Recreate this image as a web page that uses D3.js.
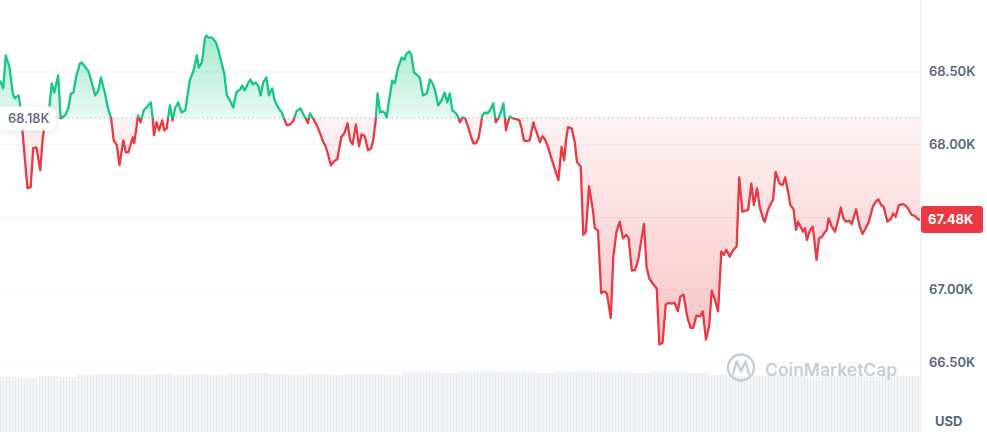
<!DOCTYPE html>
<html>
<head>
<meta charset="utf-8">
<script src="https://cdn.jsdelivr.net/npm/d3@7"></script>
<style>
  body { margin: 0; background: #fff; }
  svg { display: block; font-family: Inter, "Noto Sans", sans-serif; }
</style>
</head>
<body>
<div id="chart"></div>
<script>
// minutes since window start (24h) and price in USD
var times = [0,5,9,15,20,23,29,32,36,43,48,52,57,63,67,72,77,81,85,91,95,102,107,111,115,119,125,128,135,138,144,149,154,158,164,169,174,178,183,187,193,197,201,205,208,210,214,216,220,225,232,236,239,241,245,249,254,257,261,263,266,270,274,279,284,290,
  297,303,308,311,316,321,323,327,332,338,342,347,351,355,360,365,370,376,379,383,388,392,396,400,404,408,412,417,421,426,430,436,441,445,449,454,459,464,470,475,480,482,485,490,496,501,506,509,513,518,523,528,534,539,544,548,552,557,562,566,571,576,581,584,
  588,591,595,599,603,605,609,614,618,623,629,633,636,641,644,648,654,657,662,668,673,677,681,686,691,696,700,704,708,714,717,720,724,728,733,737,741,745,749,752,755,759,763,767,772,776,780,784,788,792,795,798,803,809,813,816,820,824,829,835,837,840,845,849,853,858,863,869,874,
  879,883,886,889,895,900,903,909,913,917,922,928,931,936,941,946,950,956,960,965,970,975,980,984,989,994,999,1003,1008,1012,1016,1021,1028,1032,1037,1042,1046,1051,1056,1061,1065,1070,1076,1081,1085,1090,1096,1100,1105,1110,1114,1119,1124,1129,1133,1137,1142,1148,1153,
  1157,1162,1167,1171,1176,1180,1185,1189,1195,1197,1202,1208,1210,1214,1220,1225,1229,1234,1237,1242,1246,1249,1253,1257,1260,1263,1268,1272,1274,1278,1282,1286,1290,1294,1297,1302,1307,1312,1316,1320,1324,1329,1333,1340,1345,1350,1355,1360,1366,1371,1375,1379,1383,1389,1394,1398,1402,1407,1413,1418,1421,1427,1432,1437,1440]

var prices = [68438,68384,68610,68527,68349,68315,68336,68253,68048,67699,67705,67973,67979,67822,68048,68178,68247,68418,68356,68473,68178,68199,68247,68349,68356,68459,68555,68562,68521,68507,68418,68336,68370,68459,68356,68247,68178,68027,67993,67856,68027,67945,67945,68007,68048,68007,68130,68199,68151,68233,68267,68288,68178,68062,68151,68096,68164,68096,68110,68178,68267,68164,68247,68288,68219,68233,
  68438,68507,68610,68527,68562,68733,68747,68733,68733,68699,68644,68555,68486,68336,68301,68253,68356,68377,68404,68370,68418,68445,68411,68425,68404,68336,68425,68459,68336,68384,68301,68247,68219,68171,68130,68137,68158,68226,68247,68205,68164,68144,68212,68178,68130,68075,68014,67993,67938,67856,67884,67897,68048,68075,68144,68027,68000,68137,67986,68068,68055,67959,67973,68027,
  68164,68349,68219,68226,68212,68185,68301,68438,68418,68527,68596,68582,68623,68637,68610,68493,68473,68459,68336,68349,68445,68418,68370,68267,68301,68356,68288,68349,68233,68212,68185,68151,68185,68178,68116,68055,68007,68007,68041,68116,68199,68219,68212,68233,68281,68151,68178,68219,68281,68096,68151,68192,68178,68171,68164,68116,68027,68021,68027,68151,68116,68082,68014,68055,68034,67979,67904,67822,67753,
  67982,67890,68027,68118,68108,68005,67879,67845,67377,67399,67712,67548,67423,67406,66977,66988,66973,66806,67228,67399,67468,67354,67377,67354,67132,67137,67206,67320,67452,67160,67080,67046,67007,66623,66635,66897,66909,66904,66909,66851,66954,66966,66806,66738,66738,66822,66817,66851,66658,66749,66993,66932,66851,67262,67240,67274,67228,67274,67297,
  67772,67536,67543,67548,67731,67582,67697,67571,67479,67468,67548,67605,67616,67810,67731,67719,67772,67662,67582,67553,67411,67468,67434,67399,67423,67342,67411,67434,67365,67206,67354,67361,67388,67411,67491,67434,67399,67479,67566,67491,67468,67475,67452,67553,67445,67384,67423,67468,67571,67605,67621,67582,67571,67468,67484,67525,67502,67582,67589,67575,67560,67514,67507,67484,67480]

// volume per 30 min block (arbitrary units)
var volTimes = d3.range(0, 1440, 30)
var volumes = [55,54,56,55,57,58,58,57,58,57,58,57,58,59,58,57,58,57,58,58,57,60,60,59,60,61,60,60,59,60,61,60,60,59,60,60,59,57,56,56,57,56,55,56,56,55,56,56]

var openPrice = 68180
var lastPrice = 67480
var gridValues = [66500, 67000, 67500, 68000, 68500]
// 67.50K sits under the last price tag, so no label for it
var labelValues = [66500, 67000, 68000, 68500]

var width = 987, height = 432, plotW = 920

var data = times.map((t, i) => ({ t: t, p: prices[i] }))

var x = d3.scaleLinear().domain([0, 1440]).range([0, plotW])
var y = d3.scaleLinear().domain([66500, 68500]).range([362.5, 71.5])
var yv = d3.scaleLinear().domain([0, 62]).range([height, 370])

var svg = d3.select('#chart').append('svg')
    .attr('width', width)
    .attr('height', height)

var defs = svg.append('defs')
var yBase = y(openPrice)

defs.append('clipPath').attr('id', 'clip-up')
  .append('rect').attr('x', 0).attr('y', 0).attr('width', plotW).attr('height', yBase)
defs.append('clipPath').attr('id', 'clip-down')
  .append('rect').attr('x', 0).attr('y', yBase).attr('width', plotW).attr('height', height - yBase)

var gUp = defs.append('linearGradient').attr('id', 'grad-up')
  .attr('gradientUnits', 'userSpaceOnUse').attr('x1', 0).attr('x2', 0)
  .attr('y1', y(d3.max(prices))).attr('y2', yBase)
gUp.append('stop').attr('offset', 0).attr('stop-color', '#16c784').attr('stop-opacity', 0.38)
gUp.append('stop').attr('offset', 1).attr('stop-color', '#16c784').attr('stop-opacity', 0.1)

var gDown = defs.append('linearGradient').attr('id', 'grad-down')
  .attr('gradientUnits', 'userSpaceOnUse').attr('x1', 0).attr('x2', 0)
  .attr('y1', yBase).attr('y2', y(d3.min(prices)))
gDown.append('stop').attr('offset', 0).attr('stop-color', '#ea3943').attr('stop-opacity', 0.06)
gDown.append('stop').attr('offset', 1).attr('stop-color', '#ea3943').attr('stop-opacity', 0.3)

// striped fill for the volume bars
var pat = defs.append('pattern').attr('id', 'vol-stripes')
  .attr('patternUnits', 'userSpaceOnUse').attr('width', 3).attr('height', 10)
pat.append('rect').attr('width', 3).attr('height', 10).attr('fill', '#f4f5f7')
pat.append('rect').attr('width', 1).attr('height', 10).attr('fill', '#e6e9ed')

// volume
svg.append('g').attr('class', 'volume')
  .selectAll('rect')
  .data(volTimes)
  .enter().append('rect')
    .attr('x', d => x(d))
    .attr('width', x(30) - x(0))
    .attr('y', (d, i) => yv(volumes[i]))
    .attr('height', (d, i) => height - yv(volumes[i]))
    .attr('fill', 'url(#vol-stripes)')

// grid
svg.append('g')
    .attr('class', 'grid')
    .attr('transform', 'translate(' + plotW + ',0)')
    .call(d3.axisRight(y).tickValues(gridValues).tickSize(-plotW).tickFormat(''))
    .call(g => g.select('.domain').remove())
    .call(g => g.selectAll('line').attr('stroke', '#eff2f5'))

svg.append('line')
    .attr('x1', plotW + 0.5).attr('x2', plotW + 0.5)
    .attr('y1', 0).attr('y2', height)
    .attr('stroke', '#eff2f5')

// watermark
var wm = svg.append('g').attr('class', 'watermark')
wm.append('circle').attr('cx', 741).attr('cy', 367.5).attr('r', 13)
  .attr('fill', 'none').attr('stroke', '#c9ced6').attr('stroke-width', 2.4)
wm.append('path')
  .attr('d', 'M733,374 L736.5,361.5 L741,371 L745.5,361.5 L749,374')
  .attr('fill', 'none').attr('stroke', '#c9ced6').attr('stroke-width', 2.4)
  .attr('stroke-linejoin', 'round').attr('stroke-linecap', 'round')
wm.append('text').attr('x', 765).attr('y', 375.5)
  .attr('font-size', '17.5px').attr('font-weight', 600)
  .attr('fill', '#c9ced6')
  .text('CoinMarketCap')

var area = d3.area().x(d => x(d.t)).y0(yBase).y1(d => y(d.p))
var line = d3.line().x(d => x(d.t)).y(d => y(d.p))

svg.append('path').datum(data).attr('d', area)
    .attr('fill', 'url(#grad-up)').attr('clip-path', 'url(#clip-up)')
svg.append('path').datum(data).attr('d', area)
    .attr('fill', 'url(#grad-down)').attr('clip-path', 'url(#clip-down)')

// open price reference
svg.append('line')
    .attr('x1', 0).attr('x2', plotW)
    .attr('y1', yBase).attr('y2', yBase)
    .attr('stroke', '#a6b0c3')
    .attr('stroke-width', 1)
    .attr('stroke-dasharray', '1.5,3')

svg.append('path').datum(data).attr('d', line)
    .attr('fill', 'none').attr('stroke', '#16c784').attr('stroke-width', 2.3)
    .attr('stroke-linejoin', 'round')
    .attr('clip-path', 'url(#clip-up)')
svg.append('path').datum(data).attr('d', line)
    .attr('fill', 'none').attr('stroke', '#ea3943').attr('stroke-width', 2.3)
    .attr('stroke-linejoin', 'round')
    .attr('clip-path', 'url(#clip-down)')

// y axis labels
var fmt = d => (d / 1000).toFixed(2) + 'K'
svg.append('g')
    .attr('class', 'y axis')
    .attr('transform', 'translate(' + plotW + ',0)')
    .call(d3.axisRight(y).tickValues(labelValues).tickSize(0).tickPadding(9).tickFormat(fmt))
    .call(g => g.select('.domain').remove())
    .call(g => g.selectAll('text')
      .attr('fill', '#58667e')
      .style('font-family', 'Inter, sans-serif')
      .style('font-size', '13px')
      .style('font-weight', 600))

svg.append('text')
    .attr('x', 935).attr('y', 426)
    .attr('fill', '#58667e')
    .style('font-size', '13px').style('font-weight', 700)
    .text('USD')

// open price label
var openG = svg.append('g')
openG.append('rect')
    .attr('x', -4).attr('y', yBase - 11.5).attr('width', 60).attr('height', 24).attr('rx', 6)
    .attr('fill', '#fff')
    .style('filter', 'drop-shadow(0px 1px 3px rgba(88,102,126,0.18))')
openG.append('text')
    .attr('x', 8).attr('y', yBase + 5)
    .attr('fill', '#58667e')
    .style('font-size', '13px').style('font-weight', 500)
    .text(fmt(openPrice))

// last price tag
var tagY = y(lastPrice)
svg.append('rect')
    .attr('x', 921).attr('y', tagY - 14).attr('width', 62).attr('height', 27).attr('rx', 3)
    .attr('fill', '#ea3943')
svg.append('text')
    .attr('x', 928).attr('y', tagY + 4.5)
    .attr('fill', '#fff')
    .style('font-size', '13px').style('font-weight', 700)
    .text(fmt(lastPrice))
</script>
</body>
</html>
